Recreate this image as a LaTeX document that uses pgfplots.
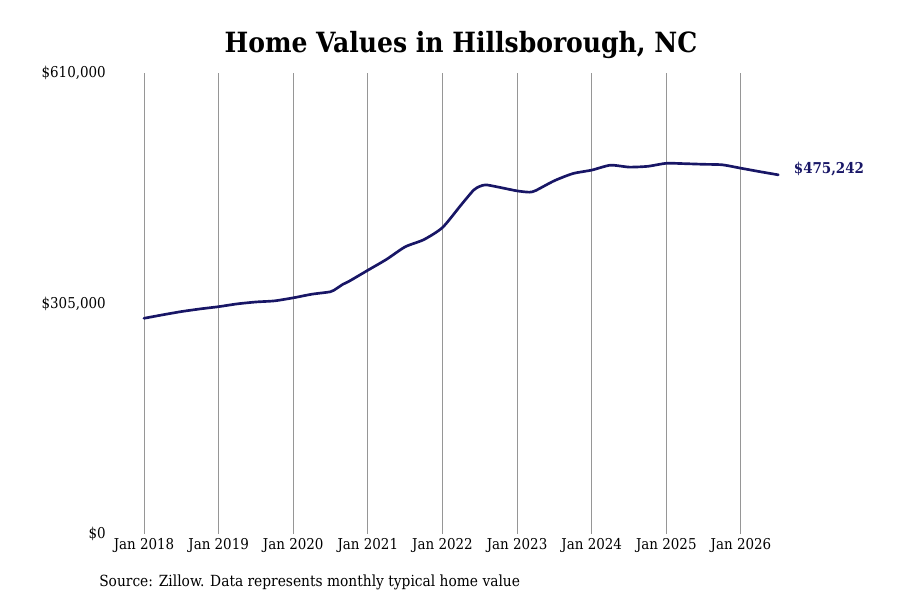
\documentclass[border=0pt]{standalone}
\usepackage{fontspec}
\setmainfont{DejaVu Serif Condensed}
\usepackage{pgfplots}
\pgfplotsset{compat=1.18}

\definecolor{navy}{RGB}{24,22,102}
\definecolor{gridgray}{RGB}{150,150,150}

\pgfplotstableread{
x        y
2018.000 285400
2018.250 290000
2018.500 294300
2018.750 297800
2019.000 300800
2019.250 304500
2019.500 307000
2019.750 308500
2020.000 312500
2020.250 317300
2020.500 320600
2020.583 325000
2020.667 330500
2020.750 334500
2021.000 349000
2021.250 363400
2021.500 380000
2021.750 389500
2022.000 405500
2022.250 435500
2022.417 455000
2022.500 460000
2022.583 462000
2022.750 459000
2023.000 454000
2023.167 452300
2023.250 454500
2023.500 467500
2023.750 477000
2024.000 481500
2024.250 488000
2024.500 485500
2024.750 486500
2025.000 490500
2025.250 490000
2025.500 489200
2025.750 488500
2026.000 484000
2026.250 479500
2026.500 475242
}\homevalues

\begin{document}
\fontsize{11.2pt}{13pt}\selectfont
\begin{tikzpicture}
\path[use as bounding box] (0,0) rectangle (675pt,450pt);

\node[font=\fontsize{20.9pt}{24pt}\selectfont\bfseries, inner sep=0pt]
  at (345.75pt,416.5pt) {Home Values in Hillsborough, NC};

\begin{axis}[
  at={(108pt,49.5pt)}, anchor=south west,
  scale only axis,
  width=481.3pt, height=345.75pt,
  xmin=2018, xmax=2026.6,
  ymin=0, ymax=610000,
  clip=false,
  axis line style={draw=none},
  major tick length=0pt,
  xtick={2018,2019,2020,2021,2022,2023,2024,2025,2026},
  xticklabels={Jan 2018,Jan 2019,Jan 2020,Jan 2021,Jan 2022,Jan 2023,Jan 2024,Jan 2025,Jan 2026},
  ytick={0,305000,610000},
  yticklabels={{\$0},{\$305,000},{\$610,000}},
  scaled y ticks=false,
  xmajorgrids,
  grid style={gridgray, line width=0.7pt},
  tick label style={font=\fontsize{11.2pt}{13pt}\selectfont},
  yticklabel style={anchor=east, inner sep=0pt, xshift=-28.5pt},
  xticklabel style={anchor=north, inner sep=0pt, yshift=-3pt},
]
\addplot[navy, line width=2pt, line join=round, line cap=round, smooth, tension=0.4]
  table[x=x, y=y] {\homevalues}
  node[pos=1, anchor=west, xshift=7pt, yshift=4.5pt, font=\bfseries, text=navy] {\$475,242};
\end{axis}

\node[anchor=west, inner sep=0pt, font=\fontsize{11.5pt}{13pt}\selectfont] at (74.25pt,13.5pt)
  {Source: Zillow. Data represents monthly typical home value};
\end{tikzpicture}
\end{document}
